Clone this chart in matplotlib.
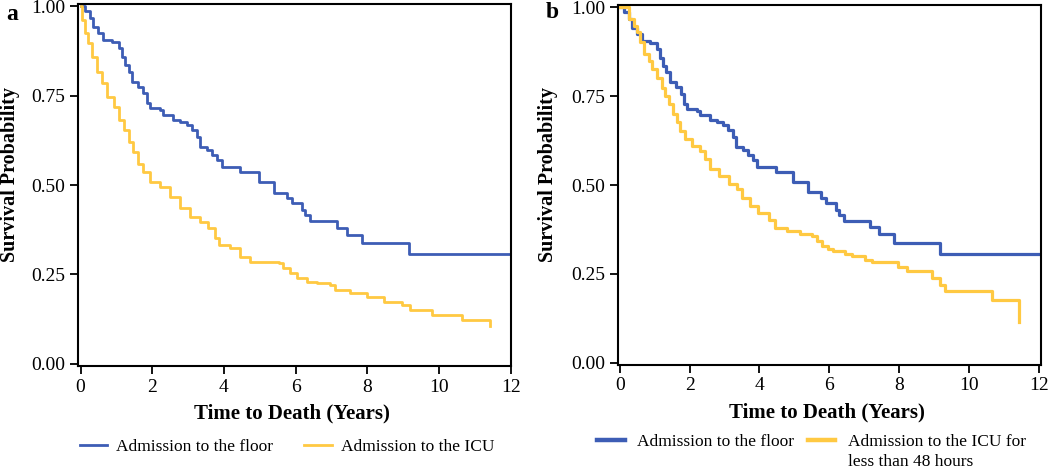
import matplotlib
matplotlib.use("Agg")
import matplotlib.pyplot as plt

# Kaplan-Meier curves (time in years, survival probability)
floor_t = [0, 0.13, 0.27, 0.36, 0.50, 0.64, 0.87, 1.06, 1.15, 1.24, 1.34, 1.43, 1.61,
           1.75, 1.85, 1.94, 2.22, 2.31, 2.59, 2.78, 2.97, 3.10, 3.25, 3.34, 3.52, 3.66,
           3.80, 3.94, 4.46, 4.97, 5.39, 5.76, 5.90, 6.18, 6.27, 6.41, 7.16, 7.42, 7.85,
           9.16, 12.0]
floor_s = [1.0, 0.986, 0.966, 0.942, 0.924, 0.905, 0.900, 0.882, 0.858, 0.835, 0.817,
           0.789, 0.775, 0.756, 0.728, 0.714, 0.709, 0.696, 0.682, 0.677, 0.668, 0.654,
           0.635, 0.607, 0.598, 0.584, 0.570, 0.551, 0.537, 0.509, 0.479, 0.463, 0.449,
           0.430, 0.416, 0.399, 0.381, 0.361, 0.337, 0.307, 0.307]

icu_t = [0, 0.03, 0.13, 0.22, 0.31, 0.45, 0.59, 0.73, 0.92, 1.06, 1.20, 1.34, 1.47,
         1.61, 1.75, 1.94, 2.22, 2.50, 2.78, 3.06, 3.34, 3.57, 3.76, 3.85, 4.18, 4.46,
         4.73, 5.53, 5.66, 5.85, 6.04, 6.32, 6.60, 6.97, 7.11, 7.53, 7.99, 8.46, 8.97,
         9.20, 9.81, 10.65, 11.42]
icu_s = [1.0, 0.961, 0.924, 0.896, 0.858, 0.817, 0.784, 0.747, 0.719, 0.682, 0.654,
         0.621, 0.593, 0.560, 0.537, 0.509, 0.495, 0.467, 0.435, 0.411, 0.397, 0.379,
         0.351, 0.332, 0.323, 0.300, 0.286, 0.281, 0.267, 0.253, 0.239, 0.230, 0.225,
         0.221, 0.207, 0.197, 0.188, 0.174, 0.165, 0.151, 0.137, 0.123, 0.107]

icu48_t = [0, 0.26, 0.40, 0.50, 0.59, 0.69, 0.83, 0.93, 1.07, 1.21, 1.31, 1.40, 1.54,
           1.64, 1.73, 1.88, 2.06, 2.31, 2.45, 2.59, 2.83, 3.12, 3.35, 3.50, 3.74, 3.97,
           4.26, 4.45, 4.78, 5.16, 5.50, 5.64, 5.78, 5.97, 6.11, 6.45, 6.64, 7.02, 7.21,
           7.97, 8.21, 8.92, 9.16, 9.31, 10.64, 11.43]
icu48_s = [1.0, 0.967, 0.948, 0.929, 0.901, 0.868, 0.849, 0.826, 0.802, 0.774, 0.751,
           0.727, 0.699, 0.676, 0.652, 0.629, 0.610, 0.596, 0.572, 0.544, 0.525, 0.502,
           0.488, 0.464, 0.440, 0.422, 0.403, 0.378, 0.370, 0.361, 0.356, 0.342, 0.328,
           0.319, 0.314, 0.305, 0.300, 0.290, 0.284, 0.270, 0.258, 0.239, 0.220, 0.203,
           0.177, 0.116]

xticks = [0, 2, 4, 6, 8, 10, 12]
yticks = [0.00, 0.25, 0.50, 0.75, 1.00]

BLUE = "#3d5db5"
YELLOW = "#ffc942"

plt.rcParams['font.family'] = ['Liberation Serif', 'DejaVu Serif']

fig = plt.figure(figsize=(10.5, 4.68), dpi=100)
ax1 = fig.add_axes([0.0743, 0.2179, 0.4124, 0.7736])
ax2 = fig.add_axes([0.5886, 0.2201, 0.4028, 0.7692])

def style(ax, xlim):
    ax.set_xlim(*xlim); ax.set_ylim(-0.006, 1.006)
    ax.set_xticks(xticks); ax.set_yticks(yticks)
    ax.set_yticklabels([f"{v:.2f}" for v in yticks])
    ax.tick_params(direction='out', length=6, width=1.3, labelsize=14, pad=3, color='black')
    for s in ax.spines.values():
        s.set_linewidth(1.5)
    ax.set_xlabel('Time to Death (Years)', fontsize=15, fontweight='bold', va='center')
    ax.set_ylabel('Survival Probability', fontsize=14.5, fontweight='bold', va='center')

# panel a
ax1.step(floor_t, floor_s, where='post', color=BLUE, lw=2.0, label='Admission to the floor')
ax1.step(icu_t, icu_s, where='post', color=YELLOW, lw=2.0, label='Admission to the ICU')
style(ax1, (-0.07, 12.01))
ax1.xaxis.set_label_coords(0.494, -0.13)
ax1.yaxis.set_label_coords(-0.157, 0.53)
ax1.legend(loc='center', bbox_to_anchor=(0.2733, 0.045), bbox_transform=fig.transFigure,
           ncol=2, frameon=False, fontsize=12.5, handlelength=1.6, handletextpad=0.5,
           columnspacing=1.8)

# panel b
ax2.step(floor_t, floor_s, where='post', color=BLUE, lw=2.3, label='Admission to the floor')
ax2.step(icu48_t, icu48_s, where='post', color=YELLOW, lw=2.3,
         label='Admission to the ICU for')
style(ax2, (-0.046, 12.05))
ax2.xaxis.set_label_coords(0.494, -0.133)
ax2.yaxis.set_label_coords(-0.165, 0.53)
leg = ax2.legend(loc='center', bbox_to_anchor=(0.7725, 1 - 441.7 / 468),
                 bbox_transform=fig.transFigure, ncol=2, frameon=False, fontsize=12.5,
                 handlelength=1.6, handletextpad=0.7, columnspacing=0.8)
for h in leg.legend_handles:
    h.set_linewidth(3.2)

# second line of the ICU label, aligned under the legend text
fig.canvas.draw()
bb = leg.get_texts()[1].get_window_extent()
fig.text(bb.x0 / fig.bbox.width, 1 - 461.7 / 468, 'less than 48 hours',
         fontsize=12.5, ha='left', va='center')

fig.text(12/1050, 1 - 15/468, 'a', fontsize=17, fontweight='bold', ha='center', va='center')
fig.text(552/1050, 1 - 13/468, 'b', fontsize=17, fontweight='bold', ha='center', va='center')

fig.savefig('out.png', dpi=100)
